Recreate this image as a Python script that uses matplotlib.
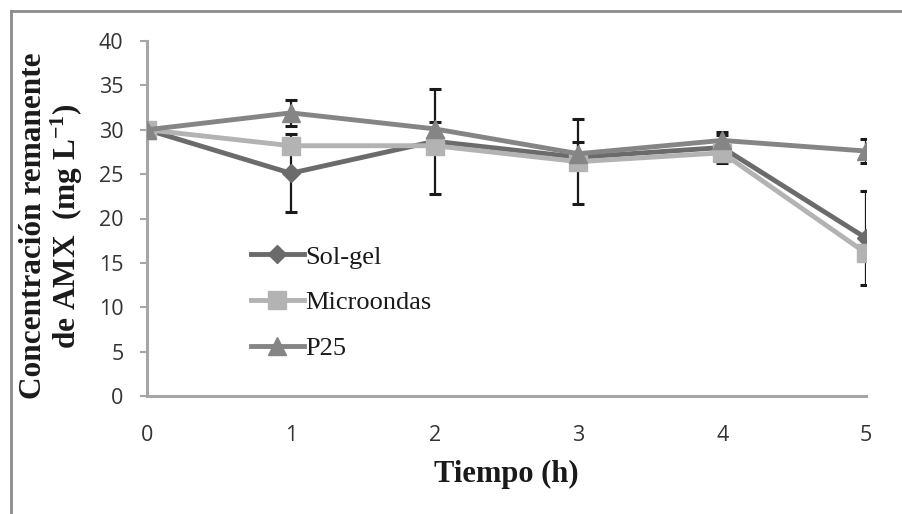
import matplotlib
matplotlib.use("Agg")
import matplotlib.pyplot as plt
from matplotlib.lines import Line2D

tiempo = [0, 1, 2, 3, 4, 5]
x_ticks = ["0", "1", "2", "3", "4", "5"]
y_ticks = [0, 5, 10, 15, 20, 25, 30, 35, 40]

sol_gel = [30.0, 25.1, 28.7, 26.9, 28.0, 17.8]
sol_gel_err = [0.0, 4.4, 5.9, 0.5, 1.75, 5.25]
microondas = [30.0, 28.2, 28.2, 26.4, 27.4, 16.1]
microondas_err = [0.0, 0.5, 0.5, 4.8, 0.5, 0.5]
p25 = [30.0, 31.9, 30.1, 27.3, 28.8, 27.6]
p25_err = [0.0, 1.5, 0.8, 1.3, 0.6, 1.4]

labels = ["Sol-gel", "Microondas", "P25"]

plt.rcParams["mathtext.fontset"] = "custom"
plt.rcParams["mathtext.rm"] = "Liberation Serif:bold"
plt.rcParams["mathtext.default"] = "rm"

fig = plt.figure(figsize=(9.03, 5.14), dpi=100)
fig.patch.set_facecolor("white")
ax = fig.add_axes([147/903, 1-396/514, (866-147)/903, (396-41)/514])

series = [
    (sol_gel, sol_gel_err, "#6b6b6b", "D", 9),
    (microondas, microondas_err, "#b3b3b3", "s", 13),
    (p25, p25_err, "#858585", "^", 13),
]

for (vals, err, col, mk, ms) in series:
    ax.errorbar(tiempo, vals, yerr=err, fmt="none", ecolor="#1a1a1a",
                elinewidth=1.6, capsize=4.5, capthick=2.2, zorder=2)

for (vals, err, col, mk, ms), lab in zip(series, labels):
    ax.plot(tiempo, vals, color=col, lw=3.5, marker=mk, markersize=ms,
            markerfacecolor=col, markeredgecolor=col, label=lab, zorder=3)

ax.set_xlim(0, 5)
ax.set_ylim(0, 40)
ax.set_xticks(tiempo)
ax.set_xticklabels(x_ticks)
ax.set_yticks(y_ticks)

for s in ["top", "right"]:
    ax.spines[s].set_visible(False)
for s in ["left", "bottom"]:
    ax.spines[s].set_color("#a6a6a6")
    ax.spines[s].set_linewidth(2.2)

ax.tick_params(axis="y", length=5, width=1.5, color="#a6a6a6", pad=12,
               labelsize=15.5, labelcolor="#333333")
ax.tick_params(axis="x", length=0, pad=21, labelsize=15.5, labelcolor="#333333")
for t in ax.get_xticklabels() + ax.get_yticklabels():
    t.set_fontfamily("Open Sans")

ax.set_xlabel("Tiempo (h)", fontfamily="Liberation Serif", fontweight="bold",
              fontsize=22, color="#1a1a1a")
ax.xaxis.set_label_coords(0.5, -0.18)

ax.text(-0.132, 0.479, "Concentración remanente\nde AMX  (mg L$^{-1}$)",
        transform=ax.transAxes, rotation=90, ha="center", va="center",
        multialignment="center", fontfamily="Liberation Serif",
        fontweight="bold", fontsize=22.5, color="#1a1a1a", linespacing=1.05)

leg = ax.legend(loc="upper left", bbox_to_anchor=(0.13, 0.455), frameon=False,
                prop={"family": "Liberation Serif", "size": 19},
                handlelength=2.0, handletextpad=0.05, labelspacing=0.85,
                borderaxespad=0)
for t in leg.get_texts():
    t.set_color("#1a1a1a")

# outer chart border (top and left edges visible, others cut off)
fig.add_artist(Line2D([11/903, 1.0], [1-11/514, 1-11/514],
                      transform=fig.transFigure, color="#8c8c8c", lw=2))
fig.add_artist(Line2D([11/903, 11/903], [0.0, 1-11/514],
                      transform=fig.transFigure, color="#8c8c8c", lw=2))

fig.savefig("out.png", dpi=100, facecolor="white")
